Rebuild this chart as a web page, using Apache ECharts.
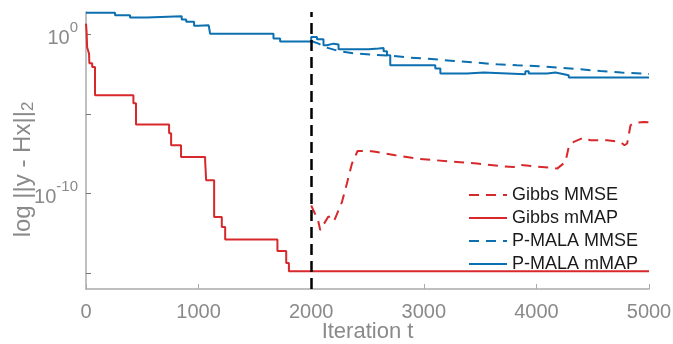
<!DOCTYPE html>
<html>
<head>
<meta charset="utf-8">
<script src="https://cdn.jsdelivr.net/npm/echarts@6/dist/echarts.min.js"></script>
<style>
html,body{margin:0;padding:0;background:#fff;}
#chart{width:673px;height:344px;}
</style>
</head>
<body>
<div id="chart"></div>
<script>
// ---- data (iteration t, log10 of ||y - Hx||_2) ----
const seriesNames = ['Gibbs MMSE', 'Gibbs mMAP', 'P-MALA MMSE', 'P-MALA mMAP'];

const gibbsMmseT   = [2000, 2062, 2080, 2151, 2178, 2204, 2273, 2317, 2362, 2412, 2540, 2747, 2940, 3117, 3295, 3473, 3665, 3798, 3843, 3976, 4124, 4184, 4258, 4287, 4332, 4420, 4480, 4628, 4747, 4782, 4806, 4836, 4865, 4954, 5000];
const gibbsMmseLog = [-10.75, -11.7, -12.3, -11.45, -11.45, -11.7, -10.53, -9.37, -8.11, -7.32, -7.34, -7.59, -7.80, -7.91, -8.01, -8.11, -8.26, -8.33, -8.18, -8.28, -8.37, -8.43, -8.01, -7.07, -6.75, -6.48, -6.65, -6.65, -6.75, -6.96, -6.85, -5.70, -5.56, -5.50, -5.52];

const gibbsMapT   = [0, 5, 10, 27, 30, 55, 80, 421, 444, 738, 756, 844, 1058, 1067, 1138, 1206, 1236, 1700, 1778, 1802, 5000];
const gibbsMapLog = [0.69, 0.2, -0.8, -1.2, -1.8, -2.04, -3.82, -4.32, -5.66, -6.21, -6.96, -7.70, -7.91, -9.16, -11.47, -12.10, -12.89, -13.61, -14.36, -14.89, -14.89];

const pmalaMmseT   = [2000, 2060, 2130, 2250, 2373, 2551, 2730, 2880, 3095, 3270, 3458, 3650, 3828, 4021, 4198, 4384, 4569, 4755, 4940, 5000];
const pmalaMmseLog = [-0.40, -0.55, -0.80, -1.05, -1.18, -1.26, -1.35, -1.45, -1.55, -1.66, -1.76, -1.87, -1.93, -1.99, -2.08, -2.18, -2.29, -2.39, -2.45, -2.48];

const pmalaMapT   = [0, 258, 391, 540, 850, 890, 960, 998, 1090, 1102, 1665, 1724, 2000, 2051, 2109, 2140, 2198, 2243, 2509, 2598, 2643, 2673, 2702, 3102, 3147, 3384, 3532, 3902, 3932, 4095, 4169, 4213, 4287, 5000];
const pmalaMapLog = [1.38, 1.21, 1.07, 1.15, 0.95, 0.80, 0.55, 0.58, 0.54, 0.06, -0.25, -0.44, -0.15, -0.30, -0.67, -0.57, -0.63, -0.92, -0.88, -0.84, -1.05, -1.30, -1.93, -2.14, -2.45, -2.39, -2.50, -2.31, -2.45, -2.39, -2.45, -2.56, -2.70, -2.70];

const burnIn = 2000;
const xTicks = [0, 1000, 2000, 3000, 4000, 5000];
const yTickExponents = [0, -5, -10, -15];
const yLabelExponents = [0, -10];
const yMinExp = -16;
const yMaxExp = 1.42;

// ---- build ----
function pairs(ts, logs) {
  return ts.map((t, i) => [t, Math.pow(10, logs[i])]);
}
const RED = '#d7282c';
const BLUE = '#0b6fb0';
const GRAY_TXT = '#8a8a8a';
const AXIS_COL = '#aaaaaa';
const FONT = 'Liberation Sans, Arial, sans-serif';

const chart = echarts.init(document.getElementById('chart'), null, {renderer: 'canvas'});
chart.setOption({
  animation: false,
  backgroundColor: '#fff',
  grid: {left: 86, right: 24, top: 12, bottom: 55, containLabel: false, outerBoundsMode: 'none'},
  legend: {
    orient: 'vertical',
    left: 463,
    top: 181,
    itemWidth: 38,
    itemHeight: 14,
    itemGap: 5,
    itemStyle: {opacity: 0, borderWidth: 0},
    data: seriesNames,
    textStyle: {fontSize: 18, color: '#1a1a1a', fontFamily: FONT}
  },
  xAxis: {
    type: 'value',
    min: xTicks[0],
    max: xTicks[xTicks.length - 1],
    interval: 1000,
    name: 'Iteration t',
    nameLocation: 'middle',
    nameGap: 32,
    nameMoveOverlap: false,
    nameTextStyle: {fontSize: 22, color: GRAY_TXT, fontFamily: FONT},
    axisLine: {show: true, lineStyle: {color: AXIS_COL, width: 1.5}},
    axisTick: {show: true, inside: true, length: 5, lineStyle: {color: AXIS_COL, width: 1}},
    axisLabel: {
      show: true, customValues: xTicks, margin: 13, fontSize: 20, color: GRAY_TXT, fontFamily: FONT,
      formatter: function (v) { return String(v); }
    },
    splitLine: {show: false}
  },
  yAxis: {
    type: 'log',
    logBase: 10,
    min: Math.pow(10, yMinExp),
    max: Math.pow(10, yMaxExp),
    name: 'log ||y - Hx||{sub|2}',
    nameLocation: 'middle',
    nameRotate: 90,
    nameGap: 77,
    nameMoveOverlap: false,
    nameTextStyle: {
      fontSize: 24, color: GRAY_TXT, fontFamily: FONT,
      padding: [0, 38, 0, 0],
      verticalAlign: 'top',
      rich: {
        sub: {fontSize: 17, color: GRAY_TXT, fontFamily: FONT, padding: [11, 0, 0, 0], verticalAlign: 'bottom'}
      }
    },
    axisLine: {show: true, lineStyle: {color: AXIS_COL, width: 1.5}},
    axisTick: {show: true, inside: true, length: 5, customValues: yTickExponents.map(e => Math.pow(10, e)), lineStyle: {color: '#777', width: 1}},
    axisLabel: {
      show: true,
      margin: 8,
      customValues: yLabelExponents.map(e => Math.pow(10, e)),
      formatter: function (v) {
        const e = Math.round(Math.log10(v));
        return '{b|10}{s|' + e + '}';
      },
      rich: {
        b: {fontSize: 20, color: GRAY_TXT, fontFamily: FONT, padding: [8, 0, 0, 0], verticalAlign: 'bottom'},
        s: {fontSize: 15, color: GRAY_TXT, fontFamily: FONT, verticalAlign: 'top'}
      }
    },
    splitLine: {show: false},
    minorTick: {show: false}
  },
  series: [
    {
      name: seriesNames[0], type: 'line', symbol: 'none', z: 5,
      data: pairs(gibbsMmseT, gibbsMmseLog),
      lineStyle: {color: RED, width: 2, type: [10, 7]},
      itemStyle: {color: RED}
    },
    {
      name: seriesNames[1], type: 'line', symbol: 'none', step: 'end', z: 4,
      data: pairs(gibbsMapT, gibbsMapLog),
      lineStyle: {color: RED, width: 2},
      itemStyle: {color: RED}
    },
    {
      name: seriesNames[2], type: 'line', symbol: 'none', z: 3,
      data: pairs(pmalaMmseT, pmalaMmseLog),
      lineStyle: {color: BLUE, width: 2, type: [10, 7]},
      itemStyle: {color: BLUE}
    },
    {
      name: seriesNames[3], type: 'line', symbol: 'none', step: 'end', z: 3,
      data: pairs(pmalaMapT, pmalaMapLog),
      lineStyle: {color: BLUE, width: 2},
      itemStyle: {color: BLUE},
      markLine: {
        silent: true,
        symbol: 'none',
        label: {show: false},
        lineStyle: {color: '#000', width: 2.5, type: [11, 6]},
        data: [{xAxis: burnIn}]
      }
    }
  ]
});
</script>
</body>
</html>
